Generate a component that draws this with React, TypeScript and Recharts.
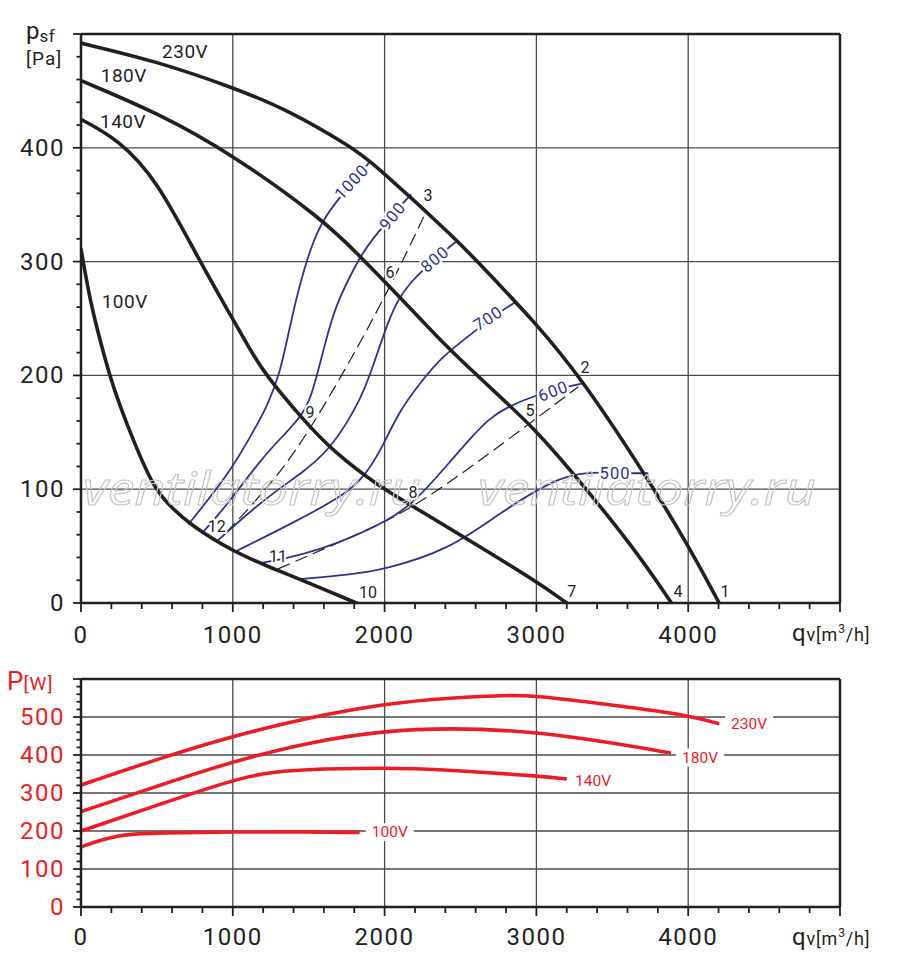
import React from 'react';
import { LineChart, Line, XAxis, YAxis, ReferenceLine, ReferenceDot } from 'recharts';

type Pt = { q: number; p: number };

// fan curves: static pressure [Pa] vs airflow [m3/h]
const fan230: Pt[] = [
  { q: 0, p: 492 }, { q: 500, p: 476 }, { q: 1000, p: 453 }, { q: 1353, p: 434 },
  { q: 1790, p: 400 }, { q: 1921, p: 387 }, { q: 2480, p: 319 }, { q: 2717, p: 285 },
  { q: 3002, p: 245 }, { q: 3287, p: 199 }, { q: 3683, p: 120 }, { q: 3996, p: 52 },
  { q: 4204, p: 0 },
];
const fan180: Pt[] = [
  { q: 0, p: 459 }, { q: 500, p: 431 }, { q: 1000, p: 394 }, { q: 1594, p: 337 },
  { q: 1836, p: 305 }, { q: 2099, p: 269 }, { q: 2365, p: 231 }, { q: 2585, p: 203 },
  { q: 2804, p: 176 }, { q: 3001, p: 151 }, { q: 3243, p: 114 }, { q: 3634, p: 50 },
  { q: 3890, p: 0 },
];
const fan140: Pt[] = [
  { q: 0, p: 425 }, { q: 250, p: 407 }, { q: 500, p: 372 }, { q: 783, p: 300 },
  { q: 1002, p: 249 }, { q: 1112, p: 223 }, { q: 1223, p: 199 }, { q: 1464, p: 161 },
  { q: 1662, p: 133 }, { q: 1967, p: 102 }, { q: 2188, p: 85 }, { q: 2570, p: 54 },
  { q: 3000, p: 19 }, { q: 3200, p: 0 },
];
const fan100: Pt[] = [
  { q: 0, p: 311 }, { q: 59, p: 266 }, { q: 125, p: 231 }, { q: 191, p: 199 },
  { q: 257, p: 173 }, { q: 344, p: 143 }, { q: 476, p: 102 }, { q: 586, p: 85 },
  { q: 717, p: 69 }, { q: 1002, p: 45 }, { q: 1287, p: 29 }, { q: 1441, p: 21 },
  { q: 1814, p: 0 },
];

// iso curves (blue)
const iso1000: Pt[] = [
  { q: 706, p: 69 }, { q: 980, p: 114 }, { q: 1157, p: 156 }, { q: 1222, p: 172 },
  { q: 1311, p: 201 }, { q: 1377, p: 244 }, { q: 1443, p: 281 }, { q: 1520, p: 315 },
  { q: 1596, p: 337 }, { q: 1695, p: 355 }, { q: 1800, p: 371 }, { q: 1904, p: 388 },
];
const iso900: Pt[] = [
  { q: 794, p: 61 }, { q: 938, p: 82 }, { q: 1201, p: 129 }, { q: 1355, p: 150 },
  { q: 1465, p: 167 }, { q: 1508, p: 179 }, { q: 1553, p: 199 }, { q: 1619, p: 234 },
  { q: 1684, p: 263 }, { q: 1772, p: 287 }, { q: 1838, p: 304 }, { q: 1926, p: 321 },
  { q: 2030, p: 337 }, { q: 2124, p: 352 }, { q: 2175, p: 359 },
];
const iso800: Pt[] = [
  { q: 893, p: 54 }, { q: 1201, p: 91 }, { q: 1487, p: 117 }, { q: 1640, p: 136 },
  { q: 1760, p: 160 }, { q: 1838, p: 179 }, { q: 1904, p: 200 }, { q: 1990, p: 235 },
  { q: 2080, p: 266 }, { q: 2180, p: 283 }, { q: 2255, p: 293 }, { q: 2409, p: 311 },
  { q: 2485, p: 319 },
];
const iso700: Pt[] = [
  { q: 1014, p: 45 }, { q: 1421, p: 72 }, { q: 1750, p: 96 }, { q: 1870, p: 112 },
  { q: 1975, p: 134 }, { q: 2101, p: 170 }, { q: 2240, p: 194 }, { q: 2365, p: 215 },
  { q: 2585, p: 238 }, { q: 2760, p: 256 }, { q: 2870, p: 265 },
];
const iso600: Pt[] = [
  { q: 1178, p: 35 }, { q: 1353, p: 39 }, { q: 1594, p: 48 }, { q: 1770, p: 57 },
  { q: 2033, p: 73 }, { q: 2208, p: 90 }, { q: 2431, p: 124 }, { q: 2585, p: 148 },
  { q: 2700, p: 163 }, { q: 2804, p: 172 }, { q: 3001, p: 183 }, { q: 3200, p: 190 },
  { q: 3309, p: 193 },
];
const iso500: Pt[] = [
  { q: 1441, p: 21 }, { q: 1770, p: 25 }, { q: 1989, p: 29 }, { q: 2428, p: 47 },
  { q: 2757, p: 79 }, { q: 3086, p: 106 }, { q: 3241, p: 113 }, { q: 3414, p: 115 },
  { q: 3600, p: 114 }, { q: 3737, p: 114 },
];

// system lines (dashed)
const sysA: Pt[] = [
  { q: 958, p: 62 }, { q: 1265, p: 106 }, { q: 1529, p: 155 }, { q: 1989, p: 264 },
  { q: 2274, p: 344 },
];
const sysB: Pt[] = [
  { q: 1298, p: 30 }, { q: 1991, p: 70 }, { q: 2186, p: 85 }, { q: 2453, p: 108 },
  { q: 2958, p: 158 }, { q: 3276, p: 190 },
];

// power input [W]
const pow230: Pt[] = [
  { q: 0, p: 321 }, { q: 500, p: 389 }, { q: 1000, p: 450 }, { q: 1500, p: 499 },
  { q: 2000, p: 535 }, { q: 2428, p: 551 }, { q: 2866, p: 558 }, { q: 3000, p: 556 },
  { q: 3528, p: 530 }, { q: 4001, p: 505 }, { q: 4204, p: 482 },
];
const pow180: Pt[] = [
  { q: 0, p: 251 }, { q: 500, p: 318 }, { q: 1000, p: 383 }, { q: 1500, p: 434 },
  { q: 2000, p: 464 }, { q: 2428, p: 471 }, { q: 2932, p: 464 }, { q: 3524, p: 431 },
  { q: 3886, p: 405 },
];
const pow140: Pt[] = [
  { q: 0, p: 200 }, { q: 500, p: 268 }, { q: 1000, p: 334 }, { q: 1200, p: 352 },
  { q: 1441, p: 362 }, { q: 2000, p: 367 }, { q: 2428, p: 361 }, { q: 3000, p: 345 },
  { q: 3200, p: 337 },
];
const pow100: Pt[] = [
  { q: 0, p: 158 }, { q: 125, p: 176 }, { q: 257, p: 188 }, { q: 344, p: 192 },
  { q: 500, p: 195 }, { q: 1000, p: 198 }, { q: 1500, p: 198 }, { q: 1836, p: 196 },
];

const xTicks = [0, 200, 400, 600, 800, 1000, 1200, 1400, 1600, 1800, 2000, 2200, 2400, 2600,
  2800, 3000, 3200, 3400, 3600, 3800, 4000, 4200, 4400, 4600, 4800, 5000];
const xLabels = [0, 1000, 2000, 3000, 4000];
const xGrid = [1000, 2000, 3000, 4000];

const yTicksTop = [0, 20, 40, 60, 80, 100, 120, 140, 160, 180, 200, 220, 240, 260, 280, 300,
  320, 340, 360, 380, 400, 420, 440, 460, 480, 500];
const yLabelsTop = [0, 100, 200, 300, 400];
const yGridTop = [100, 200, 300, 400];

const yTicksBottom = [0, 20, 40, 60, 80, 100, 120, 140, 160, 180, 200, 220, 240, 260, 280, 300,
  320, 340, 360, 380, 400, 420, 440, 460, 480, 500, 520, 540, 560, 580, 600];
const yLabelsBottom = [0, 100, 200, 300, 400, 500];
const yGridBottom = [100, 200, 300, 400, 500];

const BLACK = '#231f20';
const BLUE = '#2e3192';
const RED = '#ed1c24';
const GRID = '#4a4a4a';
const FONT = 'Roboto, "DejaVu Sans", sans-serif';

// annotation anchors (data coordinates)
const fanNames = [
  { text: '230V', q: 534, p: 479 },
  { text: '180V', q: 130, p: 458 },
  { text: '140V', q: 125, p: 417 },
  { text: '100V', q: 136, p: 259 },
];
const isoNames = [
  { text: '1000', q: 1783, p: 370, angle: -47 },
  { text: '900', q: 2053, p: 340, angle: -51 },
  { text: '800', q: 2332, p: 302, angle: -40 },
  { text: '700', q: 2683, p: 250, angle: -33 },
  { text: '600', q: 3111, p: 186, angle: -21 },
  { text: '500', q: 3518, p: 114, angle: 0 },
];
const pointNames = [
  { text: '1', q: 4242, p: 10 }, { text: '2', q: 3320, p: 207 }, { text: '3', q: 2286, p: 358 },
  { text: '4', q: 3933, p: 10 }, { text: '5', q: 2958, p: 169 }, { text: '6', q: 2036, p: 290 },
  { text: '7', q: 3233, p: 10 }, { text: '8', q: 2187, p: 97 }, { text: '9', q: 1509, p: 167 },
  { text: '10', q: 1891, p: 9 }, { text: '11', q: 1298, p: 41 }, { text: '12', q: 894, p: 67 },
];
const powerNames = [
  { text: '230V', q: 4401, p: 482 },
  { text: '180V', q: 4078, p: 393 },
  { text: '140V', q: 3373, p: 332 },
  { text: '100V', q: 2034, p: 197 },
];
const watermarks = [
  { text: 'ventilatorry.ru', q: 13, p: 86 },
  { text: 'ventilatorry.ru', q: 2615, p: 86 },
];

const XTick = (props: any) => {
  const { x, y, payload, dy } = props;
  const v = payload.value;
  const major = v % 1000 === 0;
  return (
    <g>
      <line x1={x} x2={x} y1={y} y2={y + (major ? 9 : 6)} stroke={BLACK} strokeWidth={1.8} />
      {xLabels.includes(v) && (
        <text x={x} y={y + dy} textAnchor="middle" dominantBaseline="central"
          fontFamily={FONT} fontSize={24} letterSpacing={1.5} fill={BLACK}>{v}</text>
      )}
    </g>
  );
};

const YTick = (props: any) => {
  const { x, y, payload, labels, color } = props;
  const v = payload.value;
  const major = v % 100 === 0;
  return (
    <g>
      <line x1={x - (major ? 8 : 4.5)} x2={x} y1={y} y2={y} stroke={BLACK} strokeWidth={1.8} />
      {labels.includes(v) && (
        <text x={x - 16} y={y} textAnchor="end" dominantBaseline="central"
          fontFamily={FONT} fontSize={24} letterSpacing={1.5} fill={color}>{v}</text>
      )}
    </g>
  );
};

const halo = { stroke: '#fff', strokeWidth: 5, paintOrder: 'stroke' as const, strokeLinejoin: 'round' as const };

const FanChart = () => (
  <LineChart width={900} height={650} margin={{ top: 34, right: 60, bottom: 0, left: 0 }}>
    <XAxis type="number" dataKey="q" domain={[0, 5000]} ticks={xTicks} interval={0} allowDataOverflow
      height={47} tickSize={0} tickMargin={0} tickLine={false}
      axisLine={{ stroke: BLACK, strokeWidth: 2.5 }}
      tick={(t: any) => <XTick {...t} dy={32} />} />
    <YAxis type="number" domain={[0, 500]} ticks={yTicksTop} interval={0} allowDataOverflow
      width={81} tickSize={0} tickMargin={0} tickLine={false}
      axisLine={{ stroke: BLACK, strokeWidth: 2.5 }}
      tick={(t: any) => <YTick {...t} labels={yLabelsTop} color={BLACK} />} />
    {xGrid.map((v) => <ReferenceLine key={'gx' + v} x={v} stroke={GRID} strokeWidth={1.3} />)}
    {yGridTop.map((v) => <ReferenceLine key={'gy' + v} y={v} stroke={GRID} strokeWidth={1.3} />)}
    <ReferenceLine x={5000} stroke={BLACK} strokeWidth={2.5} />
    <ReferenceLine y={500} stroke={BLACK} strokeWidth={2.5} />
    {watermarks.map((w, i) => (
      <ReferenceDot key={'wm' + i} x={w.q} y={w.p} r={0}
        shape={(s: any) => (
          <text x={s.cx} y={s.cy} fontFamily='"Open Sans", "DejaVu Sans", sans-serif' fontStyle="italic"
            fontSize={46} textLength={338} lengthAdjust="spacingAndGlyphs"
            fill="none" stroke="#c4c4c4" strokeWidth={1.1}>{w.text}</text>
        )} />
    ))}
    {[sysA, sysB].map((d, i) => (
      <Line key={'sys' + i} data={d} dataKey="p" type="basis" stroke={BLACK} strokeWidth={1.2}
        strokeDasharray="13 6" dot={false} activeDot={false} isAnimationActive={false} />
    ))}
    {[iso1000, iso900, iso800, iso700, iso600, iso500].map((d, i) => (
      <Line key={'iso' + i} data={d} dataKey="p" type="basis" stroke={BLUE} strokeWidth={1.8}
        dot={false} activeDot={false} isAnimationActive={false} />
    ))}
    {[fan230, fan180, fan140, fan100].map((d, i) => (
      <Line key={'fan' + i} data={d} dataKey="p" type="basis" stroke={BLACK} strokeWidth={3.6}
        strokeLinecap="round" dot={false} activeDot={false} isAnimationActive={false} />
    ))}
    {isoNames.map((n) => (
      <ReferenceDot key={'iso' + n.text} x={n.q} y={n.p} r={0}
        shape={(s: any) => (
          <text x={s.cx} y={s.cy} transform={`rotate(${n.angle} ${s.cx} ${s.cy})`}
            textAnchor="middle" dominantBaseline="central" fontFamily={FONT} fontSize={16.5}
            letterSpacing={1} fill={BLUE} {...halo}>{n.text}</text>
        )} />
    ))}
    {pointNames.map((n) => (
      <ReferenceDot key={'pt' + n.text} x={n.q} y={n.p} r={0}
        shape={(s: any) => (
          <text x={s.cx} y={s.cy} textAnchor="middle" dominantBaseline="central" fontFamily={FONT}
            fontSize={16} fill={BLACK} {...halo} strokeWidth={4}>{n.text}</text>
        )} />
    ))}
    {fanNames.map((n) => (
      <ReferenceDot key={'fn' + n.text} x={n.q} y={n.p} r={0}
        shape={(s: any) => (
          <text x={s.cx} y={s.cy} fontFamily={FONT} fontSize={19} letterSpacing={0.5}
            fill={BLACK}>{n.text}</text>
        )} />
    ))}
  </LineChart>
);

const PowerChart = () => (
  <LineChart width={900} height={324} margin={{ top: 29, right: 60, bottom: 0, left: 0 }}>
    <XAxis type="number" dataKey="q" domain={[0, 5000]} ticks={xTicks} interval={0} allowDataOverflow
      height={67} tickSize={0} tickMargin={0} tickLine={false}
      axisLine={{ stroke: BLACK, strokeWidth: 2.5 }}
      tick={(t: any) => <XTick {...t} dy={30} />} />
    <YAxis type="number" domain={[0, 600]} ticks={yTicksBottom} interval={0} allowDataOverflow
      width={81} tickSize={0} tickMargin={0} tickLine={false}
      axisLine={{ stroke: BLACK, strokeWidth: 2.5 }}
      tick={(t: any) => <YTick {...t} labels={yLabelsBottom} color={RED} />} />
    {xGrid.map((v) => <ReferenceLine key={'gx' + v} x={v} stroke={GRID} strokeWidth={1.3} />)}
    {yGridBottom.map((v) => <ReferenceLine key={'gy' + v} y={v} stroke={GRID} strokeWidth={1.3} />)}
    <ReferenceLine x={5000} stroke={BLACK} strokeWidth={2.5} />
    <ReferenceLine y={600} stroke={BLACK} strokeWidth={2.5} />
    {[pow230, pow180, pow140, pow100].map((d, i) => (
      <Line key={'pw' + i} data={d} dataKey="p" type="basis" stroke={RED} strokeWidth={3.6}
        dot={false} activeDot={false} isAnimationActive={false} />
    ))}
    {powerNames.map((n) => (
      <ReferenceDot key={'pn' + n.text} x={n.q} y={n.p} r={0}
        shape={(s: any) => (
          <g>
            <rect x={s.cx - 24} y={s.cy - 9} width={48} height={18} fill="#fff" />
            <text x={s.cx} y={s.cy} textAnchor="middle" dominantBaseline="central" fontFamily={FONT}
              fontSize={15.5} fill={RED}>{n.text}</text>
          </g>
        )} />
    ))}
  </LineChart>
);

const Titles = () => (
  <svg width={900} height={974} style={{ position: 'absolute', left: 0, top: 0, pointerEvents: 'none' }}>
    <text x={26} y={39} fontFamily={FONT} fill={BLACK}>
      <tspan fontSize={24}>p</tspan>
      <tspan fontSize={17} dy={3} letterSpacing={0.5}>sf</tspan>
    </text>
    <text x={26} y={65} fontFamily={FONT} fontSize={19} letterSpacing={1} fill={BLACK}>[Pa]</text>
    <text x={792} y={641} fontFamily={FONT} fill={BLACK} letterSpacing={0.8}>
      <tspan fontSize={24}>q</tspan>
      <tspan fontSize={18}>v[m</tspan>
      <tspan fontSize={12} dy={-8}>3</tspan>
      <tspan fontSize={18} dy={8}>/h]</tspan>
    </text>
    <text x={7} y={690} fontFamily={FONT} fill={RED}>
      <tspan fontSize={26}>P</tspan>
      <tspan fontSize={19} letterSpacing={1}>[W]</tspan>
    </text>
    <text x={792} y={945} fontFamily={FONT} fill={BLACK} letterSpacing={0.8}>
      <tspan fontSize={24}>q</tspan>
      <tspan fontSize={18}>v[m</tspan>
      <tspan fontSize={12} dy={-8}>3</tspan>
      <tspan fontSize={18} dy={8}>/h]</tspan>
    </text>
  </svg>
);

export default function App() {
  return (
    <div style={{ position: 'absolute', left: 0, top: 0, width: 900, height: 974, background: '#fff' }}>
      <div style={{ position: 'absolute', left: 0, top: 0 }}>
        <FanChart />
      </div>
      <div style={{ position: 'absolute', left: 0, top: 650 }}>
        <PowerChart />
      </div>
      <Titles />
    </div>
  );
}
